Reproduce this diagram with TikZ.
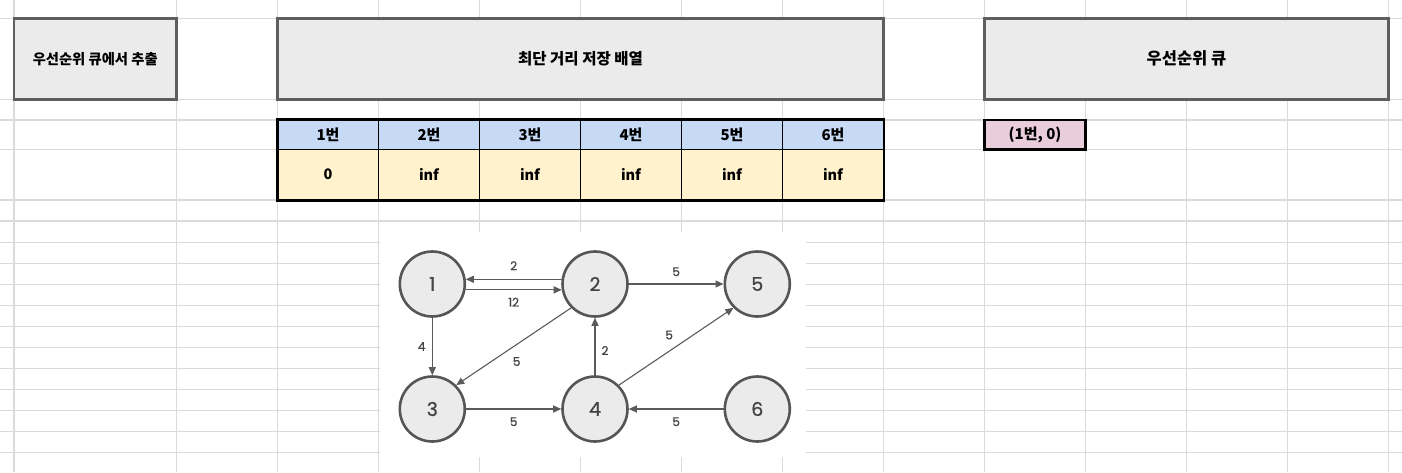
\documentclass[tikz,border=0pt]{standalone}
\usepackage{fontspec}
\newfontfamily\kr{Noto Sans CJK KR}
\newfontfamily\gf{Poppins}[FakeBold=0.8]
\usetikzlibrary{arrows.meta}
\definecolor{gridc}{HTML}{DADADA}
\definecolor{boxfill}{HTML}{EBEBEB}
\definecolor{boxline}{HTML}{5E5E5E}
\definecolor{headblue}{HTML}{C6D9F5}
\definecolor{datayellow}{HTML}{FFF2CC}
\definecolor{qpink}{HTML}{EACDDA}
\definecolor{nodeline}{HTML}{555555}
\definecolor{edgec}{HTML}{5A5A5A}
\definecolor{labc}{HTML}{444444}
\begin{document}
\begin{tikzpicture}[x=1pt,y=-1pt,
  gridline/.style={draw=gridc, line width=1.1pt},
  titlebox/.style={draw=boxline, fill=boxfill, line width=2.6pt, inner sep=0pt,
    minimum height=81pt, font=\kr\bfseries\fontsize{15.5}{17}\selectfont},
  headcell/.style={draw=black, fill=headblue, line width=0.8pt, inner sep=0pt,
    minimum width=101pt, minimum height=29.3pt, font=\kr\bfseries\fontsize{15}{17}\selectfont},
  datacell/.style={draw=black, fill=datayellow, line width=0.8pt, inner sep=0pt,
    minimum width=101pt, minimum height=50.7pt, font=\kr\bfseries\fontsize{14.5}{16}\selectfont},
  qcell/.style={draw=black, fill=qpink, line width=2.8pt, inner sep=0pt,
    minimum width=101pt, minimum height=29.3pt, font=\kr\bfseries\fontsize{15}{17}\selectfont},
  gnode/.style={circle, draw=nodeline, fill=boxfill, line width=2.6pt, inner sep=0pt,
    minimum size=65pt, text=labc, font=\gf\fontsize{19}{21}\selectfont},
  edge/.style={draw=edgec, line width=1.1pt, -{Triangle[length=8pt,width=7pt]}},
  elab/.style={text=labc, inner sep=0pt, font=\gf\fontsize{12}{13}\selectfont}
]
\useasboundingbox (0,0) rectangle (1402,472);
\fill[white] (0,0) rectangle (1402,472);
% spreadsheet grid
\foreach \gx in {14,176.5,277.5,378.5,479.5,580.5,681.5,782.5,883.5,984.5,1085.5,1186.5,1287.5,1388.5}
  \draw[gridline] (\gx,0) -- (\gx,472);
\foreach \gy in {18.3,99.3,120,149.3,200,221,242.3,263.3,284.3,305.3,326.3,347.3,368.3,389.3,410.3,431.3,452.3}
  \draw[gridline] (0,\gy) -- (1402,\gy);
% white background of the graph picture
\fill[white] (380,232) rectangle (806,457);

% title boxes
\node[titlebox, minimum width=162.5pt] (ta) at (95.25,58.8) {\fontsize{14.3}{16}\selectfont 우선순위 큐에서 추출};
\node[titlebox, minimum width=606pt] (tb) at (580.5,58.8) {최단 거리 저장 배열};
\node[titlebox, minimum width=404pt] (tc) at (1186.5,58.8) {\fontsize{16.5}{18}\selectfont 우선순위 큐};

% distance table
\node[headcell] (h1) at (328,134.65) {1번};
\node[headcell] (h2) at (429,134.65) {2번};
\node[headcell] (h3) at (530,134.65) {3번};
\node[headcell] (h4) at (631,134.65) {4번};
\node[headcell] (h5) at (732,134.65) {5번};
\node[headcell] (h6) at (833,134.65) {6번};
\node[datacell] (d1) at (328,174.65) {0};
\node[datacell] (d2) at (429,174.65) {inf};
\node[datacell] (d3) at (530,174.65) {inf};
\node[datacell] (d4) at (631,174.65) {inf};
\node[datacell] (d5) at (732,174.65) {inf};
\node[datacell] (d6) at (833,174.65) {inf};
\draw[black, line width=2.8pt] (h1.north west) rectangle (d6.south east);

% priority queue
\node[qcell] (q1) at (1035,134.65) {(1번, 0)};

% graph
\node[gnode] (n1) at (432.3,284) {1};
\node[gnode] (n2) at (595,284) {2};
\node[gnode] (n5) at (757.3,284) {5};
\node[gnode] (n3) at (432.3,409) {3};
\node[gnode] (n4) at (595,409) {4};
\node[gnode] (n6) at (757.3,409) {6};

\draw[edge] (n2.172) -- node[elab, midway, yshift=13.6pt] {2} (n1.8);
\draw[edge] (n1.-10) -- node[elab, midway, yshift=-12.3pt] {12} (n2.190);
\draw[edge] (n1) -- node[elab, midway, xshift=-10.6pt] {4} (n3);
\draw[edge] (n2.225) -- node[elab, midway, xshift=3pt, yshift=-15pt] {5} (n3.45);
\draw[edge] (n3) -- node[elab, midway, yshift=-12.7pt] {5} (n4);
\draw[edge] (n4) -- node[elab, midway, xshift=10pt, yshift=-4pt] {2} (n2);
\draw[edge] (n2) -- node[elab, midway, yshift=12.3pt] {5} (n5);
\draw[edge] (n4.45) -- node[elab, midway, xshift=-7pt, yshift=11.5pt] {5} (n5.225);
\draw[edge] (n6) -- node[elab, midway, yshift=-12.7pt] {5} (n4);
\end{tikzpicture}
\end{document}
